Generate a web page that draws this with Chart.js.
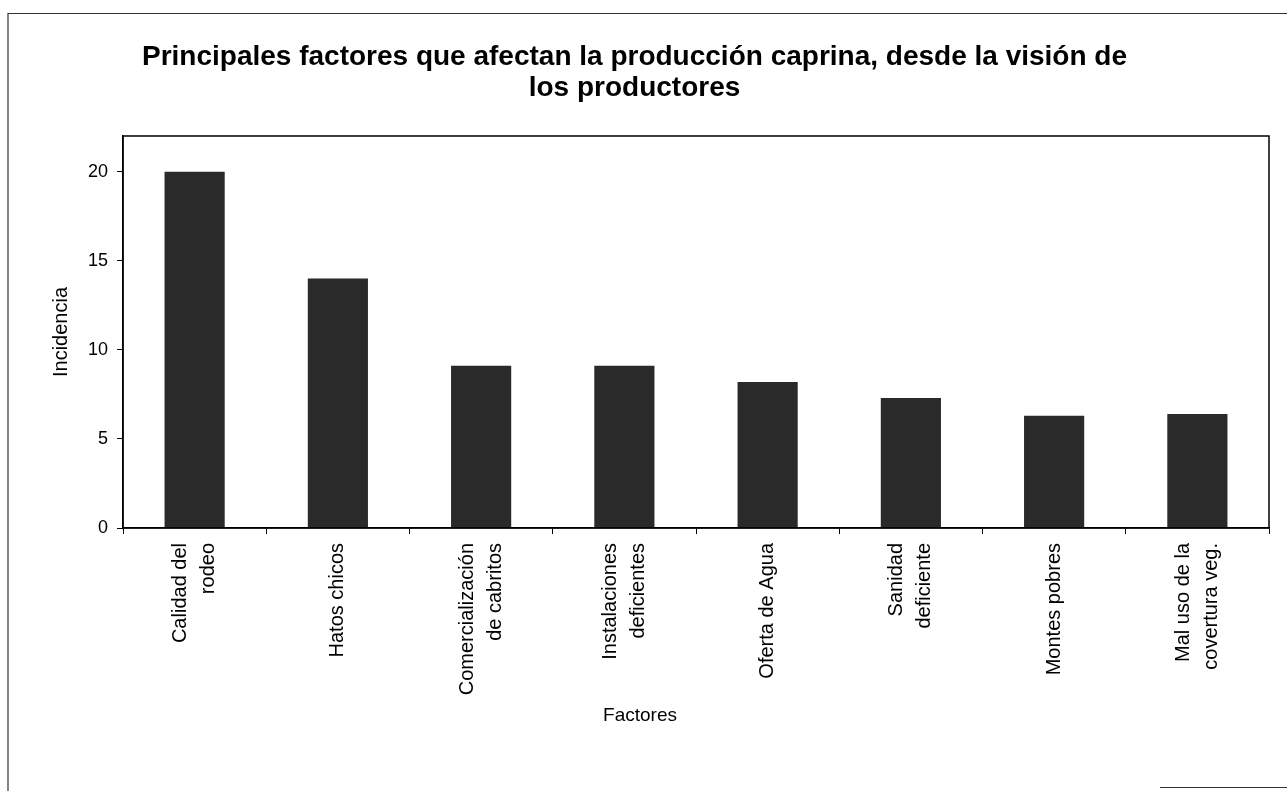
<!DOCTYPE html>
<html>
<head>
<meta charset="utf-8">
<script src="https://cdn.jsdelivr.net/npm/chart.js@4.4.1/dist/chart.umd.min.js"></script>
<style>
html,body{margin:0;padding:0;background:#fff;}
#wrap{width:1287px;height:791px;position:relative;}
</style>
</head>
<body>
<div id="wrap"><canvas id="c" width="1287" height="791"></canvas></div>
<script>
const categories = [
  ["Calidad del", "rodeo"],
  ["Hatos chicos"],
  ["Comercialización", "de cabritos"],
  ["Instalaciones", "deficientes"],
  ["Oferta de Agua"],
  ["Sanidad", "deficiente"],
  ["Montes pobres"],
  ["Mal uso de la", "covertura veg."]
];
const incidencia = [20.0, 14.0, 9.1, 9.1, 8.2, 7.3, 6.3, 6.4];
const yTicks = [0, 5, 10, 15, 20];
const titleLines = ["Principales factores que afectan la producción caprina, desde la visión de", "los productores"];
const yTitle = "Incidencia";
const xTitle = "Factores";

const FONT = "'Liberation Sans', Arial, sans-serif";

const framePlugin = {
  id: 'frame',
  beforeDraw(chart) {
    const ctx = chart.ctx;
    ctx.save();
    ctx.strokeStyle = '#333';
    ctx.lineWidth = 1.2;
    ctx.beginPath();
    ctx.moveTo(8, 791); ctx.lineTo(8, 13.5); ctx.lineTo(1287, 13.5);
    ctx.moveTo(1160, 787.5); ctx.lineTo(1287, 787.5);
    ctx.stroke();
    ctx.restore();
    // center multi-line rotated category labels on their tick
    const xs = chart.scales.x;
    if (xs && xs.getLabelItems) {
      const items = xs.getLabelItems();
      items.forEach(it => {
        const n = Array.isArray(it.label) ? it.label.length : 1;
        if (n > 1 && it.options && it.options.translation) {
          const lh = it.font && it.font.lineHeight ? it.font.lineHeight : 28;
          it.options.translation[0] -= (n - 1) * lh / 2;
        }
      });
    }
  },
  afterDraw(chart) {
    const a = chart.chartArea, ctx = chart.ctx;
    ctx.save();
    ctx.strokeStyle = '#000';
    ctx.lineWidth = 1.5;
    ctx.strokeRect(a.left, a.top, a.right - a.left, a.bottom - a.top);
    ctx.fillStyle = '#000';
    ctx.font = "19px " + FONT;
    ctx.textAlign = 'center';
    ctx.textBaseline = 'middle';
    ctx.fillText(xTitle, 640, 716);
    ctx.restore();
  }
};

new Chart(document.getElementById('c'), {
  type: 'bar',
  data: {
    labels: categories,
    datasets: [{
      data: incidencia,
      backgroundColor: '#2a2a2a',
      borderWidth: 0,
      barPercentage: 0.42,
      categoryPercentage: 1.0
    }]
  },
  options: {
    responsive: false,
    animation: false,
    layout: { padding: { left: 0, right: 18, top: 0, bottom: 0 } },
    plugins: {
      legend: { display: false },
      tooltip: { enabled: false },
      title: {
        display: true,
        text: titleLines,
        color: '#000',
        font: { family: FONT, size: 28, weight: 'bold', lineHeight: 1.107 },
        padding: { top: 42, bottom: 32 }
      }
    },
    scales: {
      x: {
        grid: { display: true, offset: true, drawOnChartArea: false, drawTicks: true, tickLength: 6, color: '#000', lineWidth: 1 },
        border: { display: true, color: '#000', width: 1.5 },
        ticks: {
          color: '#000',
          font: { family: FONT, size: 20, lineHeight: 1.4 },
          maxRotation: 90, minRotation: 90,
          padding: 9,
          autoSkip: false
        },
        afterFit(scale) { scale.height = 263; }
      },
      y: {
        min: 0,
        max: 22,
        afterBuildTicks(scale) { scale.ticks = yTicks.map(v => ({ value: v })); },
        grid: { display: true, drawOnChartArea: false, drawTicks: true, tickLength: 6, color: '#000', lineWidth: 1 },
        border: { display: true, color: '#000', width: 1.5 },
        ticks: { color: '#000', font: { family: FONT, size: 18 }, padding: 9 },
        title: { display: true, text: yTitle, color: '#000', font: { family: FONT, size: 20, lineHeight: 1.2 }, padding: { top: 49, bottom: 0 } },
        afterFit(scale) { scale.width = 123; }
      }
    }
  },
  plugins: [framePlugin]
});
</script>
</body>
</html>
